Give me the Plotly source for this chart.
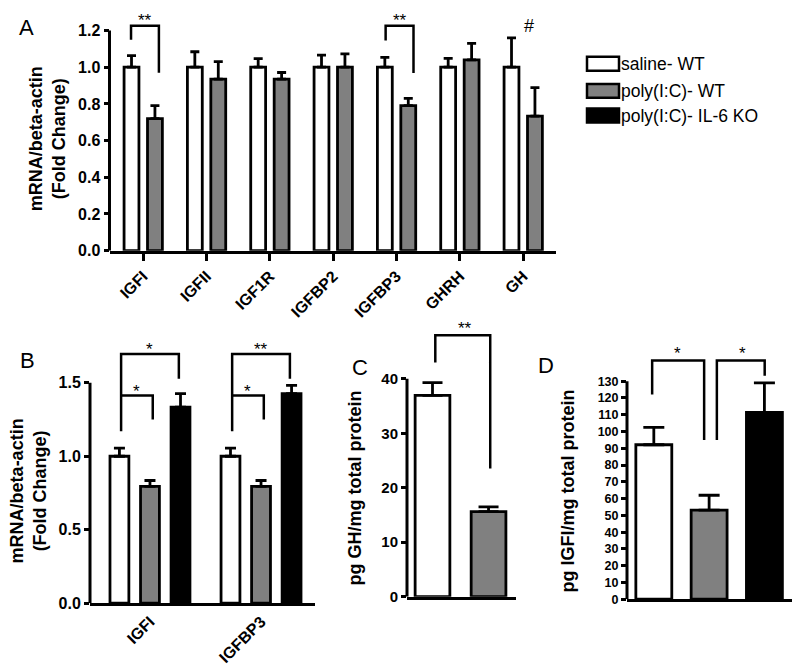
import plotly.graph_objects as go

# ---------------- data ----------------
genes_A = ["IGFI", "IGFII", "IGF1R", "IGFBP2", "IGFBP3", "GHRH", "GH"]
saline_A = [1.00, 1.00, 1.00, 1.00, 1.00, 1.00, 1.00]
saline_A_sem = [0.063, 0.084, 0.047, 0.066, 0.054, 0.048, 0.160]
polyIC_A = [0.72, 0.935, 0.935, 1.00, 0.79, 1.04, 0.733]
polyIC_A_sem = [0.070, 0.095, 0.036, 0.073, 0.040, 0.090, 0.156]

genes_B = ["IGFI", "IGFBP3"]
saline_B = [1.00, 1.00]
saline_B_sem = [0.056, 0.056]
polyIC_B = [0.795, 0.795]
polyIC_B_sem = [0.040, 0.040]
il6ko_B = [1.334, 1.426]
il6ko_B_sem = [0.092, 0.056]

groups_C = ["saline- WT", "poly(I:C)- WT"]
gh_C = [36.96, 15.6]
gh_C_sem = [2.34, 0.90]

groups_D = ["saline- WT", "poly(I:C)- WT", "poly(I:C)- IL-6 KO"]
igf1_D = [92.1, 53.1, 111.4]
igf1_D_sem = [10.4, 8.9, 17.6]

y_ticks_A = [0, 0.2, 0.4, 0.6, 0.8, 1.0, 1.2]
y_ticks_B = [0, 0.5, 1.0, 1.5]
y_ticks_C = [0, 10, 20, 30, 40]
y_ticks_D = list(range(0, 131, 10))

legend_names = ["saline- WT", "poly(I:C)- WT", "poly(I:C)- IL-6 KO"]

# ---------------- style ----------------
W, H = 800, 667
WHITE, GREY, BLACK = "white", "rgb(128,128,128)", "black"
FONT = "Liberation Sans, Arial, sans-serif"


def fx(p):
    return p / W


def fy(p):
    return 1 - p / H


def bar(x, y, err, color, xa, ya, width, offset, cap):
    return go.Bar(
        x=x, y=y, xaxis=xa, yaxis=ya, width=width, offset=offset,
        marker=dict(color=color, line=dict(color="black", width=2.8)),
        error_y=dict(type="data", symmetric=False, array=err,
                     arrayminus=[0] * len(err), color="black",
                     thickness=2.8, width=cap),
        showlegend=False, hoverinfo="skip",
    )


xA = list(range(len(genes_A)))
xB = list(range(len(genes_B)))
xC = list(range(len(groups_C)))
xD = list(range(len(groups_D)))

fig = go.Figure()
# Panel A
fig.add_trace(bar(xA, saline_A, saline_A_sem, WHITE, "x", "y", 0.235, -0.30, 4.5))
fig.add_trace(bar(xA, polyIC_A, polyIC_A_sem, GREY, "x", "y", 0.235, 0.07, 4.5))
# Panel B
fig.add_trace(bar(xB, saline_B, saline_B_sem, WHITE, "x2", "y2", 0.17, -0.36, 5.5))
fig.add_trace(bar(xB, polyIC_B, polyIC_B_sem, GREY, "x2", "y2", 0.17, -0.085, 5.5))
fig.add_trace(bar(xB, il6ko_B, il6ko_B_sem, BLACK, "x2", "y2", 0.17, 0.19, 5.5))
# Panel C
fig.add_trace(bar(xC, gh_C, gh_C_sem, [WHITE, GREY], "x3", "y3", 0.62, -0.31, 10))
# Panel D
fig.add_trace(bar(xD, igf1_D, igf1_D_sem, [WHITE, GREY, BLACK], "x4", "y4", 0.65, -0.325, 10.5))


def xaxis(dom, rng, tickvals=None, ticktext=None, show=True, ticks="outside", size=16):
    return dict(domain=[fx(dom[0]), fx(dom[1])], range=rng,
                showline=True, linecolor="black", linewidth=3,
                showgrid=False, zeroline=False,
                ticks=ticks, ticklen=7, tickwidth=2.5, tickcolor="black",
                tickvals=tickvals if tickvals is not None else [],
                ticktext=ticktext if ticktext is not None else [],
                showticklabels=show, tickangle=-45,
                tickfont=dict(family=FONT, size=size, color="black", weight="bold"),
                fixedrange=True)


def yaxis(dom, rng, tickvals, fmt, anchor, size=16):
    return dict(domain=[fy(dom[0]), fy(dom[1])], range=rng, anchor=anchor,
                showline=False, showgrid=False, zeroline=False,
                ticks="outside", ticklen=5, tickwidth=2.5, tickcolor="black",
                tickvals=tickvals, tickformat=fmt,
                tickfont=dict(family=FONT, size=size, color="black", weight="bold"),
                fixedrange=True)


layout = dict(
    width=W, height=H, margin=dict(l=0, r=0, t=0, b=0),
    paper_bgcolor="white", plot_bgcolor="white",
    barmode="overlay", showlegend=False,
    xaxis=xaxis((101.5, 548), [-0.53, 6.52], xA, genes_A),
    yaxis=yaxis((246, 246 - 1.3 * 186), [0, 1.3], y_ticks_A, ".1f", "x"),
    xaxis2=xaxis((82, 307), [-0.54, 1.486], xB, genes_B, True, ""),
    yaxis2=yaxis((603.3, 603.3 - 1.75 * 148.9), [0, 1.75], y_ticks_B, ".1f", "x2"),
    xaxis3=xaxis((399, 508), [-0.455, 1.49], None, None, False, ""),
    yaxis3=yaxis((596.7, 596.7 - 50 * 5.52), [0, 50], y_ticks_C, "d", "x3", 15),
    xaxis4=xaxis((619, 786), [-0.485, 2.535], None, None, False, ""),
    yaxis4=yaxis((599.3, 599.3 - 150 * 1.7), [0, 150], y_ticks_D, "d", "x4", 12.5),
)
layout["xaxis"]["anchor"] = "y"
layout["xaxis2"]["anchor"] = "y2"
layout["xaxis3"]["anchor"] = "y3"
layout["xaxis4"]["anchor"] = "y4"
fig.update_layout(**layout)

shapes = []
# y-axis lines up to the top tick
for xa, ya, top in [("x", "y", y_ticks_A[-1]), ("x2", "y2", y_ticks_B[-1]),
                    ("x3", "y3", y_ticks_C[-1]), ("x4", "y4", y_ticks_D[-1])]:
    shapes.append(dict(type="line", xref=xa + " domain", yref=ya, x0=0, x1=0,
                       y0=0, y1=top, line=dict(color="black", width=3)))


def bracket(xa, ya, xl, xr, yl, ytop, yr):
    return dict(type="path", xref=xa, yref=ya,
                path=f"M {xl},{yl} L {xl},{ytop} L {xr},{ytop} L {xr},{yr}",
                line=dict(color="black", width=2.5))


annotations = []


def star(xa, ya, x, y, text, size=17):
    annotations.append(dict(xref=xa, yref=ya, x=x, y=y, text=text, showarrow=False,
                            font=dict(family=FONT, size=size, color="black"),
                            xanchor="center", yanchor="middle"))


# Panel A brackets
shapes.append(bracket("x", "y", -0.19, 0.25, 1.15, 1.226, 0.97))
star("x", "y", 0.03, 1.255, "**")
shapes.append(bracket("x", "y", 4 - 0.17, 4 + 0.27, 1.145, 1.226, 0.968))
star("x", "y", 4 + 0.06, 1.255, "**")
star("x", "y", 6 + 0.09, 1.225, "#", 18)

# Panel B brackets
for i, outer in [(0, "*"), (1, "**")]:
    shapes.append(bracket("x2", "y2", i - 0.26, i + 0.26, 1.17, 1.696, 1.527))
    shapes.append(bracket("x2", "y2", i - 0.26, i + 0.025, 1.413, 1.413, 1.251))
    star("x2", "y2", i, 1.725, outer)
    star("x2", "y2", i - 0.12, 1.44, "*")

# Panel C bracket
shapes.append(bracket("x3", "y3", 0.05, 1.03, 43.0, 48.0, 23.55))
star("x3", "y3", 0.58, 49.3, "**")

# Panel D brackets
shapes.append(bracket("x4", "y4", -0.03, 0.91, 122.1, 142.4, 94.9))
star("x4", "y4", 0.42, 146.5, "*")
shapes.append(bracket("x4", "y4", 1.14, 2.005, 94.9, 142.4, 133.3))
star("x4", "y4", 1.61, 146.5, "*")

# Legend (drawn manually to match the wide boxes)
leg_rows = [56.5, 84.0, 109.0]
for name, color, yc in zip(legend_names, [WHITE, GREY, BLACK], leg_rows):
    shapes.append(dict(type="rect", xref="paper", yref="paper",
                       x0=fx(579), x1=fx(611), y0=fy(yc + 7), y1=fy(yc - 7),
                       fillcolor=color, line=dict(color="black", width=2.5)))
    annotations.append(dict(xref="paper", yref="paper", x=fx(611), y=fy(yc),
                            text=name, showarrow=False, xanchor="left", yanchor="middle",
                            font=dict(family=FONT, size=17.5, color="black")))

# Axis titles
titles = [
    ("mRNA/beta-actin<br>(Fold Change)", 39, 133),
    ("mRNA/beta-actin<br>(Fold Change)", 20, 490),
    ("pg GH/mg total protein", 347, 487),
    ("pg IGFI/mg total protein", 560, 490),
]
for text, x, y in titles:
    annotations.append(dict(xref="paper", yref="paper", x=fx(x), y=fy(y), text=text,
                            textangle=-90, showarrow=False, xanchor="center", yanchor="middle",
                            font=dict(family=FONT, size=18, color="black", weight="bold")))

# Panel letters
for letter, x, y in [("A", 18, 20), ("B", 19, 357), ("C", 352, 364), ("D", 538, 362)]:
    annotations.append(dict(xref="paper", yref="paper", x=fx(x), y=fy(y), text=letter,
                            showarrow=False, xanchor="center", yanchor="middle",
                            font=dict(family=FONT, size=22, color="black")))

fig.update_layout(shapes=shapes, annotations=annotations)
fig.write_html("out.html")
